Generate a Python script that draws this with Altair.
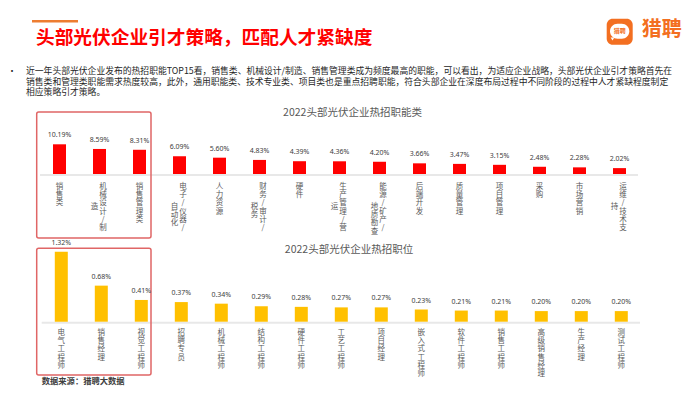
import altair as alt
import pandas as pd

# ---------------- data ----------------
job_funcs = ["销售类", "机械设计/制造", "销售管理类", "电子/仪器/自动化", "人力资源",
             "财务/审计/税务", "硬件", "生产管理/营运", "能源/矿产/地质勘查", "后端开发",
             "质量管理", "项目管理", "采购", "市场营销", "运维/技术支持"]
job_func_share = [10.19, 8.59, 8.31, 6.09, 5.60, 4.83, 4.39, 4.36, 4.20, 3.66,
                  3.47, 3.15, 2.48, 2.28, 2.02]

positions = ["电气工程师", "销售经理", "视觉工程师", "招聘专员", "机械工程师",
             "结构工程师", "硬件工程师", "工艺工程师", "项目经理", "嵌入式工程师",
             "软件工程师", "销售工程师", "高级销售经理", "生产经理", "测试工程师"]
position_share = [1.32, 0.68, 0.41, 0.37, 0.34, 0.29, 0.28, 0.27, 0.27, 0.23,
                  0.21, 0.21, 0.20, 0.20, 0.20]

main_title = "头部光伏企业引才策略，匹配人才紧缺度"
paragraph = [
    "近一年头部光伏企业发布的热招职能TOP15看，销售类、机械设计/制造、销售管理类成为频度最高的职能，可以看出，为适应企业战略，头部光伏企业引才策略首先在",
    "销售类和管理类职能需求热度较高，此外，通用职能类、技术专业类、项目类也是重点招聘职能，符合头部企业在深度布局过程中不同阶段的过程中人才紧缺程度制定",
    "相应策略引才策略。",
]
title_top = "2022头部光伏企业热招职能类"
title_bottom = "2022头部光伏企业热招职位"
source_note = "数据来源：猎聘大数据"
brand = "猎聘"

CJK = "Noto Sans CJK SC"
ORANGE = "#F36F21"
BOX = "#E06666"


def one(s):
    return alt.Chart(pd.DataFrame({"t": [s]}))


def txt(s, x, y, **kw):
    return one(s).mark_text(**kw).encode(text="t:N", x=alt.value(x), y=alt.value(y))


def hrule(x1, x2, y, color, w):
    return one("r").mark_rule(color=color, strokeWidth=w).encode(
        x=alt.value(x1), x2=alt.value(x2), y=alt.value(y))


def box(x1, x2, y1, y2):
    return one("b").mark_rect(fill="white", fillOpacity=0, stroke=BOX, strokeWidth=1.5,
                              cornerRadius=2).encode(
        x=alt.value(x1), x2=alt.value(x2), y=alt.value(y1), y2=alt.value(y2))


def panel(cats, vals, color, xr, yr, label_y, left_y):
    df = pd.DataFrame({
        "cat": cats,
        "val": vals,
        "lab": [f"{v:.2f}%" for v in vals],
        "c1": ["\n".join(list(c[:6])) for c in cats],
        "c2": ["\n".join(list(c[6:])) for c in cats],
        "two": [len(c) > 6 for c in cats],
    })
    xenc = alt.X("cat:N", sort=cats, axis=None,
                 scale=alt.Scale(domain=cats, range=xr, paddingInner=0, paddingOuter=0))
    yenc = alt.Y("val:Q", axis=None,
                 scale=alt.Scale(domain=[0, max(vals)], range=yr, nice=False, zero=True))
    base = alt.Chart(df).encode(x=xenc)
    bars = base.mark_bar(width=13, color=color).encode(y=yenc)
    val_t = base.mark_text(baseline="middle", dy=-9, fontSize=7, font="Noto Sans",
                           color="#404040").encode(y=yenc, text="lab:N")
    lab_kw = dict(lineBreak="\n", lineHeight=8.3, fontSize=7.5, font=CJK, color="#595959")
    single = base.transform_filter("!datum.two").mark_text(baseline="top", **lab_kw).encode(
        y=alt.value(label_y), text="c1:N")
    right = base.transform_filter("datum.two").mark_text(baseline="top", dx=3.5, **lab_kw).encode(
        y=alt.value(label_y), text="c1:N")
    left = base.transform_filter("datum.two").mark_text(baseline="middle", dx=-5, **lab_kw).encode(
        y=alt.value(left_y), text="c2:N")
    return alt.layer(bars, val_t, single, right, left)


# ---------------- header ----------------
header = [
    hrule(24, 70, 13.3, "#ED7D31", 2.5),
    txt(main_title, 28, 30.3, align="left", baseline="middle", fontSize=18.7,
        fontWeight="bold", font=CJK, color="#FF0000"),
    txt("•", 4, 62.5, align="center", baseline="middle", fontSize=9, font=CJK, color="#262626"),
    txt("\n".join(paragraph), 18, 59.2, align="left", baseline="top", lineBreak="\n",
        lineHeight=10.65, fontSize=8.8, font=CJK, color="#262626"),
    # logo
    one("l").mark_rect(color=ORANGE, cornerRadius=6).encode(
        x=alt.value(598.7), x2=alt.value(624.7), y=alt.value(10.7), y2=alt.value(36.7)),
    one("l").mark_rect(color="white", cornerRadius=7.5).encode(
        x=alt.value(602), x2=alt.value(621.3), y=alt.value(15.7), y2=alt.value(30.7)),
    one("l").mark_point(shape="triangle-down", filled=True, color="white", size=14, opacity=1).encode(
        x=alt.value(604.5), y=alt.value(31)),
    txt(brand, 611.7, 23.2, align="center", baseline="middle", fontSize=6, fontWeight="bold",
        font=CJK, color=ORANGE),
    txt(brand, 633.7, 21.5, align="left", baseline="middle", fontSize=20, fontWeight="bold",
        font=CJK, color=ORANGE),
    # panel titles
    txt(title_top, 344.5, 105, align="center", baseline="middle", fontSize=10.5, font=CJK,
        color="#595959"),
    txt(title_bottom, 341, 242, align="center", baseline="middle", fontSize=10.5, font=CJK,
        color="#595959"),
    # baselines
    hrule(32, 630, 167, "#E8E8E8", 2),
    hrule(33.7, 632, 314.7, "#E8E8E8", 2),
    # highlight boxes
    box(28.7, 143, 104, 230),
    box(28.7, 143, 240.3, 367),
    txt(source_note, 33.7, 373.7, align="left", baseline="middle", fontSize=8.3,
        fontWeight="bold", font=CJK, color="#404040"),
]

top = panel(job_funcs, job_func_share, "#FF0000", [31.5, 631.5], [166, 136.3], 174.7, 198.8)
bottom = panel(positions, position_share, "#FFC000", [33.3, 633.3], [313.7, 243.7], 320.7, 345)

chart = alt.layer(*header, top, bottom).resolve_scale(
    x="independent", y="independent"
).properties(
    width=684, height=378, autosize="none", padding=0
).configure_view(stroke=None)

chart.save("out.html", embed_options={"renderer": "svg", "actions": False})
